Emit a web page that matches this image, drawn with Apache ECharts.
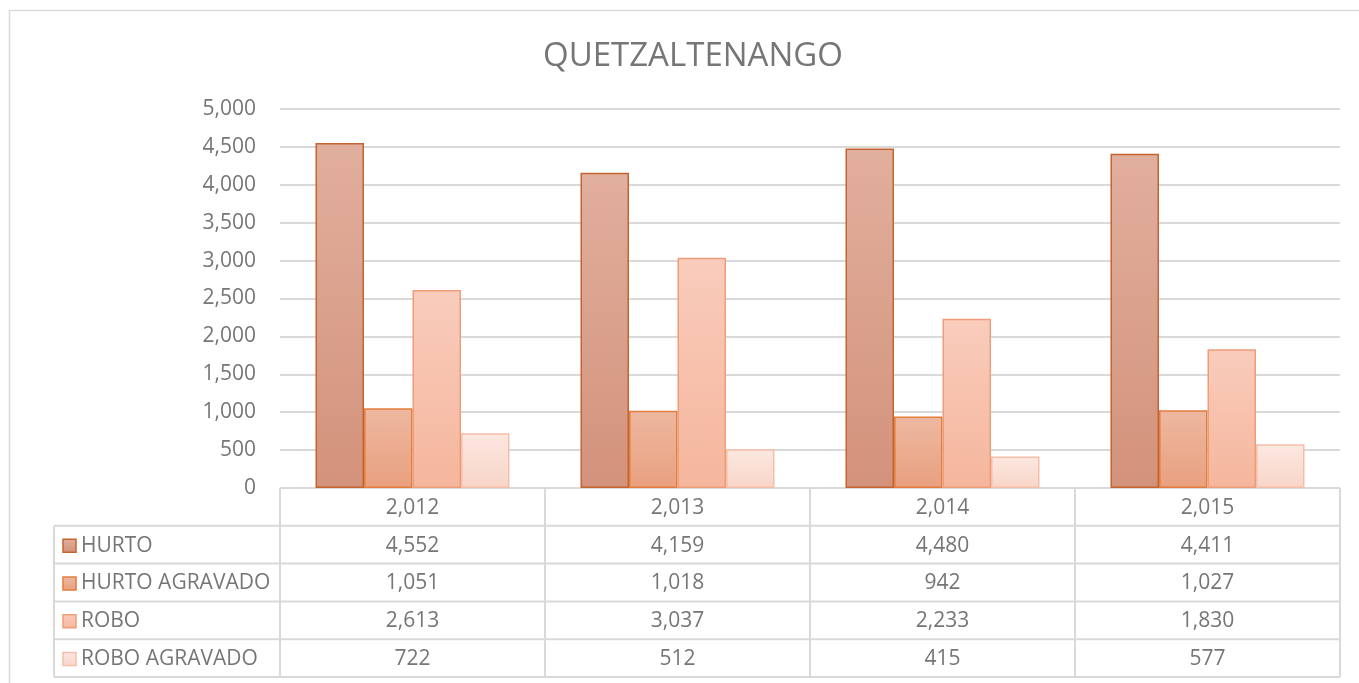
<!DOCTYPE html>
<html>
<head>
<meta charset="utf-8">
<title>QUETZALTENANGO</title>
<script src="https://cdn.jsdelivr.net/npm/echarts@6/dist/echarts.min.js"></script>
<style>
  html, body { margin: 0; padding: 0; background: #ffffff; }
  #chart { width: 1359px; height: 683px; }
</style>
</head>
<body>
<div id="chart"></div>
<script>
// Years shown in the data table header
const years = ['2,012', '2,013', '2,014', '2,015'];

// Reported cases per year
const seriesNames = ['HURTO', 'HURTO AGRAVADO', 'ROBO', 'ROBO AGRAVADO'];
const hurto = [4552, 4159, 4480, 4411];
const hurtoAgravado = [1051, 1018, 942, 1027];
const robo = [2613, 3037, 2233, 1830];
const roboAgravado = [722, 512, 415, 577];

// Value axis ticks
const yMin = 0;
const yMax = 5000;
const yStep = 500;

const seriesValues = [hurto, hurtoAgravado, robo, roboAgravado];

// Fill (top, bottom) and outline colours for each series
const palette = [
  { top: '#e1af9d', bottom: '#d3927b', border: '#c4652f' },
  { top: '#edb8a0', bottom: '#e9a07f', border: '#e27d3e' },
  { top: '#f9ccbc', bottom: '#f5b69c', border: '#ef9d78' },
  { top: '#fce8e1', bottom: '#f8d5c8', border: '#f5bea8' }
];

const fmt = v => v.toLocaleString('en-US');
const textColor = '#767676';
const lineColor = '#d9d9d9';
const font = '"Open Sans", sans-serif';

// Plot and table layout
const plotLeft = 280, plotRight = 1340, plotTop = 109, plotBottom = 488;
const tableLeft = 54, rowH = 37.8;
const colW = (plotRight - plotLeft) / years.length;

const chart = echarts.init(document.getElementById('chart'), null, { renderer: 'canvas' });

function gradient(c) {
  return new echarts.graphic.LinearGradient(0, 0, 0, 1, [
    { offset: 0, color: c.top },
    { offset: 1, color: c.bottom }
  ]);
}

// Data table drawn under the plot
const graphics = [];
graphics.push({
  type: 'rect', silent: true,
  shape: { x: 9.5, y: 10.5, width: 1400, height: 720 },
  style: { fill: 'none', stroke: lineColor, lineWidth: 1.5 }
});
const rowsBottom = plotBottom + rowH * (seriesNames.length + 1);
// horizontal rules
graphics.push({ type: 'line', silent: true,
  shape: { x1: plotLeft, y1: plotBottom, x2: plotRight, y2: plotBottom },
  style: { stroke: lineColor, lineWidth: 2 } });
for (let r = 1; r <= seriesNames.length + 1; r++) {
  const y = plotBottom + rowH * r;
  graphics.push({ type: 'line', silent: true,
    shape: { x1: tableLeft, y1: y, x2: plotRight, y2: y },
    style: { stroke: lineColor, lineWidth: 2 } });
}
// vertical rules
graphics.push({ type: 'line', silent: true,
  shape: { x1: tableLeft, y1: plotBottom + rowH, x2: tableLeft, y2: rowsBottom },
  style: { stroke: lineColor, lineWidth: 2 } });
for (let c = 0; c <= years.length; c++) {
  const x = plotLeft + colW * c;
  graphics.push({ type: 'line', silent: true,
    shape: { x1: x, y1: plotBottom, x2: x, y2: rowsBottom },
    style: { stroke: lineColor, lineWidth: 2 } });
}
// header cells
years.forEach((yr, c) => {
  graphics.push({ type: 'text', silent: true,
    x: plotLeft + colW * (c + 0.5), y: plotBottom + rowH / 2 + 1,
    style: { text: yr, fill: textColor, font: '21px ' + font, align: 'center', verticalAlign: 'middle' } });
});
// series rows
seriesNames.forEach((name, r) => {
  const cy = plotBottom + rowH * (r + 1.5) + 1;
  graphics.push({ type: 'rect', silent: true,
    shape: { x: 63, y: cy - 6.5, width: 13, height: 13 },
    style: { fill: gradient(palette[r]), stroke: palette[r].border, lineWidth: 1.5 } });
  graphics.push({ type: 'text', silent: true,
    x: 81, y: cy,
    style: { text: name, fill: textColor, font: '21px ' + font, align: 'left', verticalAlign: 'middle' } });
  seriesValues[r].forEach((v, c) => {
    graphics.push({ type: 'text', silent: true,
      x: plotLeft + colW * (c + 0.5), y: cy,
      style: { text: fmt(v), fill: textColor, font: '21px ' + font, align: 'center', verticalAlign: 'middle' } });
  });
});

const option = {
  backgroundColor: '#ffffff',
  animation: false,
  title: {
    text: 'QUETZALTENANGO',
    left: 538,
    top: 35,
    textStyle: { color: '#767676', fontSize: 33, fontWeight: 'normal', fontFamily: font }
  },
  grid: {
    left: plotLeft, right: 1359 - plotRight, top: plotTop, bottom: 683 - plotBottom,
    containLabel: false
  },
  xAxis: {
    type: 'category',
    data: years,
    axisLine: { show: false },
    axisTick: { show: false },
    axisLabel: { show: false },
    splitLine: { show: false }
  },
  yAxis: {
    type: 'value',
    min: yMin, max: yMax, interval: yStep,
    axisLine: { show: false },
    axisTick: { show: false },
    axisLabel: {
      color: textColor, fontSize: 21, margin: 24,
      fontFamily: font,
      formatter: v => fmt(v)
    },
    splitLine: { lineStyle: { color: lineColor, width: 2 } }
  },
  series: seriesNames.map((name, i) => ({
    name: name,
    type: 'bar',
    data: seriesValues[i],
    barWidth: 48.5,
    barGap: '0%',
    itemStyle: {
      color: gradient(palette[i]),
      borderColor: palette[i].border,
      borderWidth: 1.5
    }
  })),
  graphic: graphics
};

chart.setOption(option);
</script>
</body>
</html>
